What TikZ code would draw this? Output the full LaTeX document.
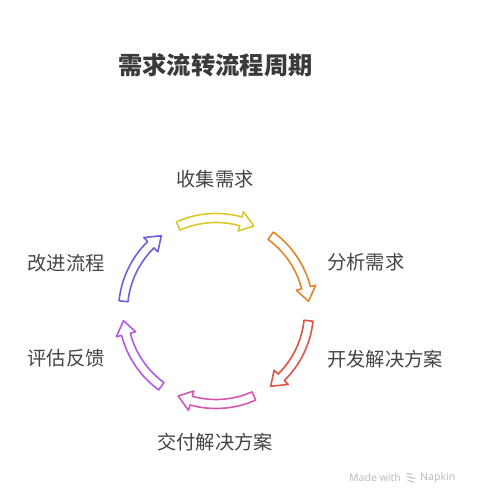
\documentclass[tikz,border=0pt]{standalone}
\usepackage{fontspec}
\newfontfamily\cjk{Noto Sans CJK SC}
\newfontfamily\wmfont{Noto Sans}
\definecolor{cyellow}{HTML}{D9C92C}
\definecolor{corange}{HTML}{E0872C}
\definecolor{cred}{HTML}{E05446}
\definecolor{cpink}{HTML}{D657B3}
\definecolor{cpurple}{HTML}{B35BE5}
\definecolor{cblue}{HTML}{6F60E0}
\definecolor{labelgray}{HTML}{454545}
\definecolor{titlegray}{HTML}{3A3A3A}
\definecolor{wmgray}{HTML}{BDBDBD}
\newcommand\cycarrow[2]{%
  \draw[#1, line width=1.6pt, line join=round, fill=white, shift={(C)}]
    ({#2+24}:97.5) arc[start angle={#2+24}, end angle={#2-15.5}, radius=97.5]
    -- ({#2-15.5}:103) -- ({#2-24}:93) -- ({#2-15.5}:83) -- ({#2-15.5}:88.5)
    arc[start angle={#2-15.5}, end angle={#2+24}, radius=88.5] -- cycle;}
\tikzset{
  lbl/.style={font=\cjk\fontsize{19.3}{21}\selectfont, text=labelgray, inner sep=0pt},
  ttl/.style={font=\cjk\bfseries\fontsize{24.3}{26}\selectfont, text=titlegray, inner sep=0pt},
  wm/.style={font=\wmfont\fontsize{10.5}{12}\selectfont, text=wmgray, inner sep=0pt}
}
\begin{document}
\begin{tikzpicture}[x=1pt,y=1pt]
\useasboundingbox (0,0) rectangle (480,504);
\fill[white] (0,0) rectangle (480,504);
\coordinate (C) at (216,193);
\node[ttl] (title) at (215.5,439) {需求流转流程周期};
\cycarrow{cyellow}{90}
\cycarrow{corange}{30}
\cycarrow{cred}{-30}
\cycarrow{cpink}{-90}
\cycarrow{cpurple}{-150}
\cycarrow{cblue}{150}
\node[lbl] (collect) at (215,325) {收集需求};
\node[lbl, anchor=west] (analyze) at (327,242) {分析需求};
\node[lbl, anchor=west] (develop) at (327,145) {开发解决方案};
\node[lbl] (deliver) at (215,62) {交付解决方案};
\node[lbl, anchor=east] (evaluate) at (105,146) {评估反馈};
\node[lbl, anchor=east] (improve) at (105,241) {改进流程};
\node[wm, anchor=west] (made) at (349,26) {Made with};
\node[wm, anchor=west] (napkin) at (420,26) {Napkin};
\begin{scope}[wmgray, line width=1pt, line cap=round]
  \draw (407,30.5) -- (412,29.5);
  \draw (407,27.5) -- (415,25.5);
  \draw (408,23.5) -- (414,22);
\end{scope}
\end{tikzpicture}
\end{document}
